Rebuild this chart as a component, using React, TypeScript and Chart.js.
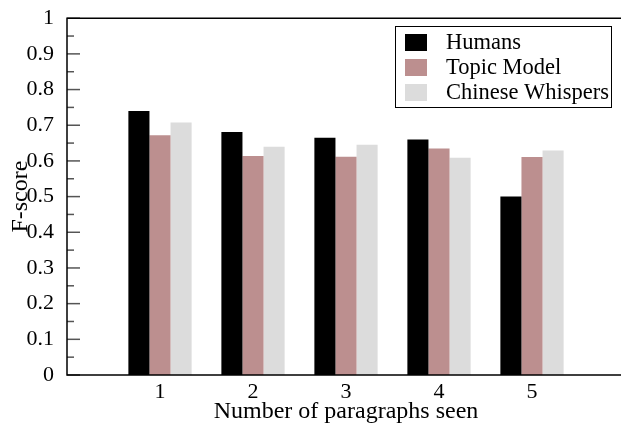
import React, { useEffect, useRef } from "react";
import { Chart, registerables } from "chart.js";

Chart.register(...registerables);

const categories = ["1", "2", "3", "4", "5"];
const humans = [0.74, 0.681, 0.665, 0.66, 0.5];
const topicModel = [0.672, 0.614, 0.612, 0.635, 0.611];
const chineseWhispers = [0.708, 0.64, 0.645, 0.609, 0.629];
const yTicks = [0, 0.1, 0.2, 0.3, 0.4, 0.5, 0.6, 0.7, 0.8, 0.9, 1];

const FONT = "'Liberation Serif', 'Times New Roman', serif";

const pad = (arr: number[]) => [null, ...arr, null];

const framePlugin = {
  id: "frameAndTicks",
  afterDatasetsDraw(chart: any) {
    const { ctx, chartArea } = chart;
    const y = chart.scales.y;
    ctx.save();
    // inward ticks
    ctx.strokeStyle = "#555";
    ctx.lineWidth = 1.5;
    for (let i = 0; i < yTicks.length; i++) {
      const py = y.getPixelForValue(yTicks[i]);
      ctx.beginPath();
      ctx.moveTo(chartArea.left, py);
      ctx.lineTo(chartArea.left + 13, py);
      ctx.stroke();
      if (i < yTicks.length - 1) {
        const pm = y.getPixelForValue((yTicks[i] + yTicks[i + 1]) / 2);
        ctx.beginPath();
        ctx.moveTo(chartArea.left, pm);
        ctx.lineTo(chartArea.left + 7, pm);
        ctx.stroke();
      }
    }
    // frame (left, top, bottom; right edge lies beyond the view)
    ctx.strokeStyle = "#000";
    ctx.lineWidth = 1.5;
    ctx.beginPath();
    ctx.moveTo(chartArea.right + 20, chartArea.top);
    ctx.lineTo(chartArea.left, chartArea.top);
    ctx.lineTo(chartArea.left, chartArea.bottom);
    ctx.lineTo(chartArea.right + 20, chartArea.bottom);
    ctx.stroke();
    // legend
    const bx = 395, by = 26, bw = 216, bh = 81;
    ctx.fillStyle = "#fff";
    ctx.fillRect(bx, by, bw, bh);
    ctx.strokeStyle = "#000";
    ctx.lineWidth = 1;
    ctx.strokeRect(bx + 0.5, by + 0.5, bw, bh);
    ctx.font = `22.5px ${FONT}`;
    ctx.textBaseline = "middle";
    ctx.textAlign = "left";
    chart.data.datasets.forEach((ds: any, i: number) => {
      const cy = 42.5 + i * 25;
      ctx.fillStyle = ds.backgroundColor;
      ctx.fillRect(405, cy - 8.5, 22, 17);
      ctx.fillStyle = "#000";
      ctx.fillText(ds.label, 446, cy + 1);
    });
    ctx.restore();
  },
};

export default function App() {
  const ref = useRef<HTMLCanvasElement>(null);

  useEffect(() => {
    if (!ref.current) return;
    const chart = new Chart(ref.current, {
      type: "bar",
      data: {
        labels: ["", ...categories, ""],
        datasets: [
          { label: "Humans", data: pad(humans) as any, backgroundColor: "#000000" },
          { label: "Topic Model", data: pad(topicModel) as any, backgroundColor: "#bc8f8f" },
          { label: "Chinese Whispers", data: pad(chineseWhispers) as any, backgroundColor: "#dcdcdc" },
        ],
      },
      options: {
        responsive: false,
        animation: false,
        devicePixelRatio: 1,
        layout: { padding: { top: 14, right: 15, left: 0, bottom: 0 } },
        datasets: {
          bar: { barPercentage: 1, categoryPercentage: 0.68, borderWidth: 0 },
        },
        plugins: {
          legend: { display: false },
          tooltip: { enabled: false },
        },
        scales: {
          x: {
            offset: false,
            grid: { display: false },
            border: { display: false },
            ticks: {
              color: "#000",
              font: { family: FONT, size: 22 },
              padding: -4,
              maxRotation: 0,
              autoSkip: false,
            },
            title: {
              display: true,
              text: "Number of paragraphs seen",
              color: "#000",
              font: { family: FONT, size: 24 },
              padding: { top: 0, bottom: 0 },
            },
            afterFit: (s: any) => {
              s.height = 51;
            },
          },
          y: {
            min: 0,
            max: 1,
            grid: { display: false },
            border: { display: false },
            ticks: {
              stepSize: 0.1,
              color: "#000",
              font: { family: FONT, size: 22 },
              padding: 5,
              callback: (v: any) => String(Math.round(Number(v) * 10) / 10),
            },
            title: {
              display: true,
              text: "F-score",
              color: "#000",
              font: { family: FONT, size: 24 },
              padding: { top: 6, bottom: 0 },
            },
            afterFit: (s: any) => {
              s.width = 67;
            },
          },
        },
      },
      plugins: [framePlugin],
    });
    return () => chart.destroy();
  }, []);

  return (
    <div
      style={{
        position: "fixed",
        left: 0,
        top: 0,
        width: 621,
        height: 426,
        overflow: "hidden",
        background: "#fff",
      }}
    >
      <canvas ref={ref} width={640} height={426} style={{ width: 640, height: 426 }} />
    </div>
  );
}
